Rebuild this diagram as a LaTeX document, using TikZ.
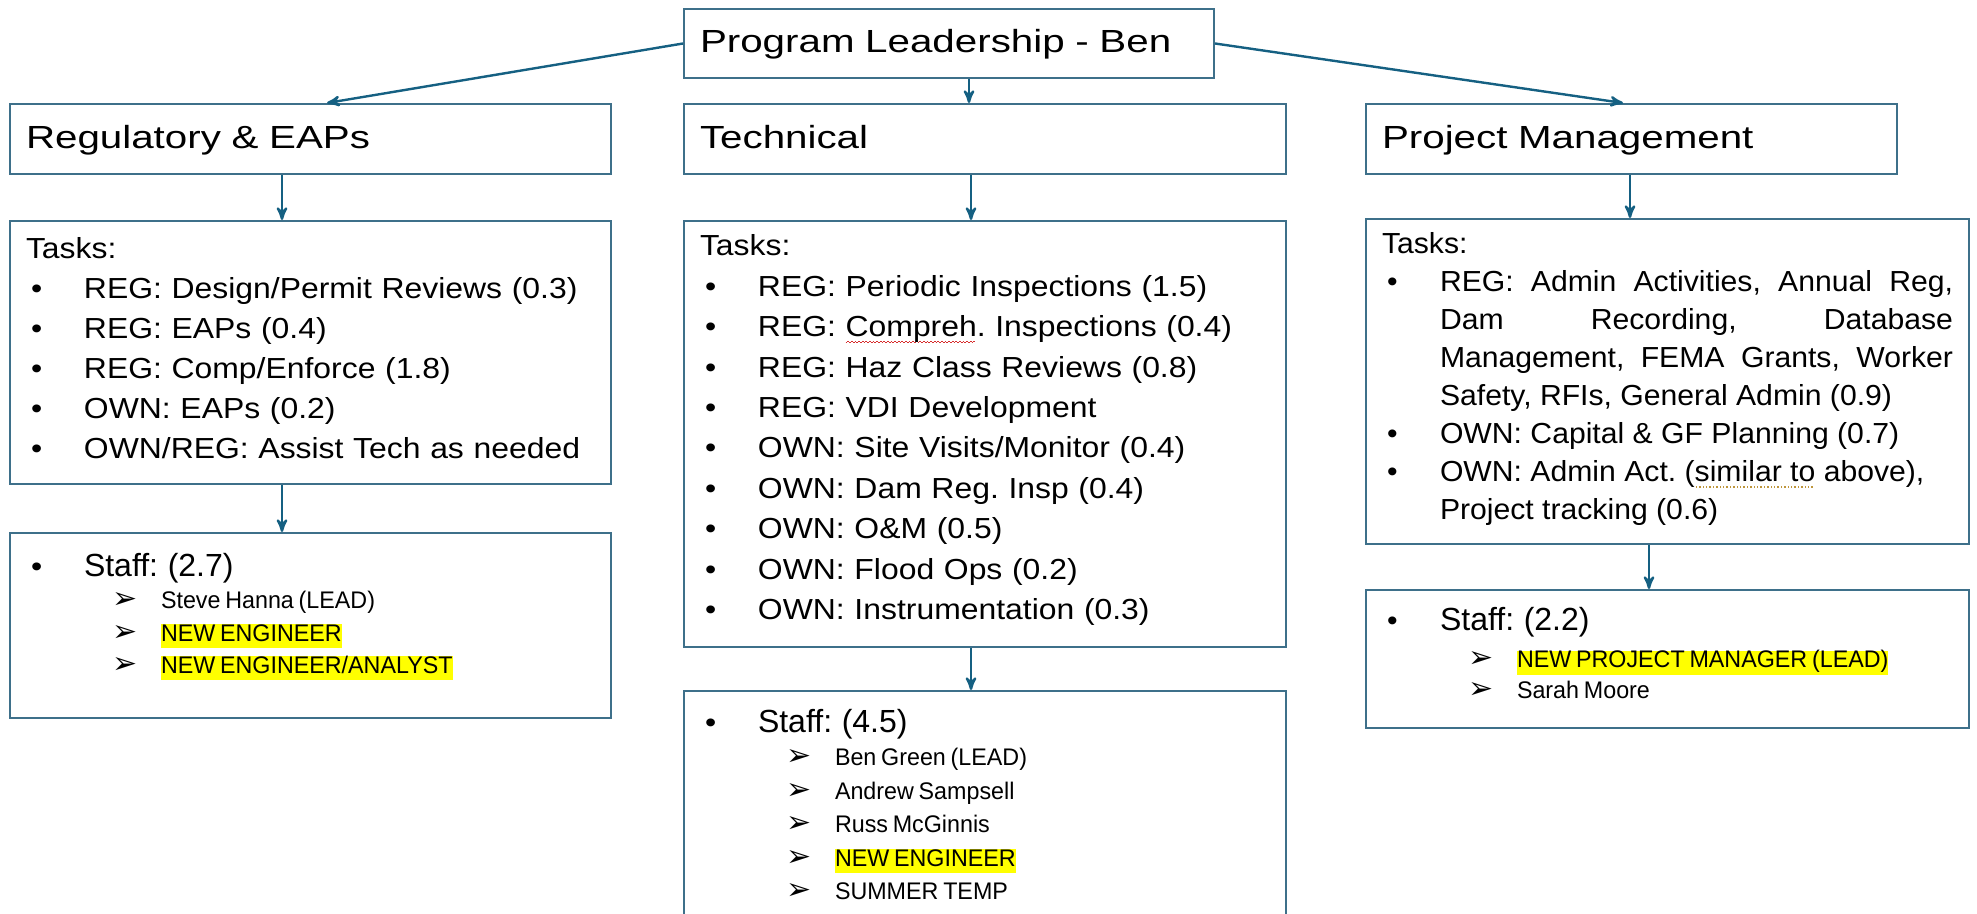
\documentclass[tikz,border=0pt]{standalone}
\usepackage{fontspec}
\usepackage{tikz}
\usetikzlibrary{arrows}
\setmainfont{Liberation Sans}
\newfontfamily\ttlfont{Liberation Sans}[FakeStretch=1.26]
\newfontfamily\taskfont{Liberation Sans}[FakeStretch=1.1]
\newfontfamily\pmfont{Liberation Sans}[FakeStretch=1.04]
\newfontfamily\nmfont{Liberation Sans}[FakeStretch=0.97]
\newfontfamily\dingfont{DejaVu Sans}
\definecolor{box_blue}{RGB}{62,112,138}
\definecolor{edge_blue}{RGB}{21,96,130}
\definecolor{hl_yellow}{RGB}{255,255,0}
\definecolor{wave_red}{RGB}{215,45,45}
\definecolor{dot_gold}{RGB}{190,150,60}
\frenchspacing

\newsavebox{\markbox}
\newcommand{\itm}[1]{\hangindent=29pt\hangafter=1\noindent\makebox[29pt][l]{\hspace{2.5pt}\textbullet}#1\par}
\newcommand{\nm}[1]{\noindent\hspace*{43pt}\makebox[24.5pt][l]{\dingfont\fontsize{15}{15}\selectfont ➢}{\spaceskip=0.2em#1}\par}
\newcommand{\staff}[1]{{\fontsize{16}{16.5}\selectfont #1}}
\newcommand{\hl}[1]{{\setlength{\fboxsep}{0pt}\colorbox{hl_yellow}{\rule[-3.3pt]{0pt}{11pt}#1}}}
\newcommand{\redwave}[1]{\leavevmode\sbox{\markbox}{#1}\rlap{\color{wave_red}\lower3pt\hbox to\wd\markbox{\leaders\hbox{\rule{0.9pt}{0.45pt}\raise0.55pt\hbox{\rule{0.9pt}{0.45pt}}}\hfill}}\usebox{\markbox}}
\newcommand{\golddots}[1]{\leavevmode\sbox{\markbox}{#1}\rlap{\color{dot_gold}\lower2.8pt\hbox to\wd\markbox{\leaders\hbox{\kern0.5pt\rule{0.7pt}{0.7pt}\kern0.5pt}\hfill}}\usebox{\markbox}}

\begin{document}
\begin{tikzpicture}[->,>=stealth',x=0.5pt,y=-0.5pt]
    \tikzstyle{box}=[draw=box_blue, line width=1pt, rectangle, anchor=north west, inner ysep=0pt, inner xsep=8pt, align=left, text=black]
    \tikzstyle{head}=[style=box, font=\ttlfont\fontsize{16}{20}\selectfont, text height=22.5pt, text depth=12.5pt]
    \tikzstyle{link}=[edge_blue, line width=1.2pt]

    \useasboundingbox (0,0) rectangle (1977,914);
    \clip (0,0) rectangle (1977,914);

    \node[head, text width=249pt, text height=22pt] (lead) at (683,8) {Program Leadership - Ben};
    \node[head, text width=284.5pt] (reg)  at (9,103)    {Regulatory \& EAPs};
    \node[head, text width=285pt]   (tech) at (683,103)  {Technical};
    \node[head, text width=249.5pt] (pm)   at (1365,103) {Project Management};

    \node[box, text width=284.5pt, text height=19pt, text depth=112.5pt,
          font=\taskfont\fontsize{14.5}{20}\selectfont] (regtask) at (9,220) {Tasks:\par
        \itm{REG: Design/Permit Reviews (0.3)}
        \itm{REG: EAPs (0.4)}
        \itm{REG: Comp/Enforce (1.8)}
        \itm{OWN: EAPs (0.2)}
        \itm{OWN/REG: Assist Tech as needed}};
    \node[box, text width=285pt, text height=17.5pt, text depth=195.5pt,
          font=\taskfont\fontsize{14.5}{20.2}\selectfont] (techtask) at (683,220) {Tasks:\par
        \itm{REG: Periodic Inspections (1.5)}
        \itm{REG: \redwave{Compreh}. Inspections (0.4)}
        \itm{REG: Haz Class Reviews (0.8)}
        \itm{REG: VDI Development}
        \itm{OWN: Site Visits/Monitor (0.4)}
        \itm{OWN: Dam Reg. Insp (0.4)}
        \itm{OWN: O\&M (0.5)}
        \itm{OWN: Flood Ops (0.2)}
        \itm{OWN: Instrumentation (0.3)}};
    \node[box, align=justify, text width=285.5pt, text height=17.5pt, text depth=145pt,
          font=\pmfont\fontsize{14.5}{19}\selectfont] (pmtask) at (1365,218) {Tasks:\par
        \itm{REG: Admin Activities, Annual Reg,\linebreak Dam Recording, Database\linebreak Management, FEMA Grants, Worker\linebreak Safety, RFIs, General Admin (0.9)}
        \itm{OWN: Capital \& GF Planning (0.7)}
        \itm{OWN: Admin Act. (\golddots{similar to} above),\newline Project tracking (0.6)}};

    \node[box, text width=284.5pt, text height=21.5pt, text depth=71pt,
          font=\taskfont\fontsize{14.5}{16.5}\selectfont] (regstaff) at (9,532) {%
        \itm{\staff{\rmfamily Staff: (2.7)}}
        {\nmfont\fontsize{12}{16.25}\selectfont
        \nm{Steve Hanna (LEAD)}
        \nm{\hl{NEW ENGINEER}}
        \nm{\hl{NEW ENGINEER/ANALYST}}}};
    \node[box, text width=285pt, text height=20.5pt, text depth=99.5pt,
          font=\taskfont\fontsize{14.5}{16.75}\selectfont] (techstaff) at (683,690) {%
        \itm{\staff{\rmfamily Staff: (4.5)}}
        {\nmfont\fontsize{12}{16.75}\selectfont
        \nm{Ben Green (LEAD)}
        \nm{Andrew Sampsell}
        \nm{Russ McGinnis}
        \nm{\hl{NEW ENGINEER}}
        \nm{SUMMER TEMP}}};
    \node[box, text width=285.5pt, text height=20.5pt, text depth=48.5pt,
          font=\pmfont\fontsize{14.5}{15.5}\selectfont] (pmstaff) at (1365,589) {%
        \itm{\staff{\rmfamily Staff: (2.2)}}\vspace{3pt}
        {\nmfont\fontsize{12}{15.5}\selectfont
        \nm{\hl{NEW PROJECT MANAGER (LEAD)}}
        \nm{Sarah Moore}}};

    \path[link]
     (lead.west) edge ([xshift=8.25pt]reg.north)
     ([xshift=10pt]lead.south) edge ([xshift=-8pt]tech.north)
     (lead.east) edge ([xshift=-4.25pt]pm.north)
     ([xshift=-14.25pt]reg.south) edge ([xshift=-14.25pt]regtask.north)
     ([xshift=-14.25pt]regtask.south) edge ([xshift=-14.25pt]regstaff.north)
     ([xshift=-7pt]tech.south) edge ([xshift=-7pt]techtask.north)
     ([xshift=-7pt]techtask.south) edge ([xshift=-7pt]techstaff.north)
     ([xshift=-0.75pt]pm.south) edge ([xshift=-18.75pt]pmtask.north)
     ([xshift=-9.25pt]pmtask.south) edge ([xshift=-9.25pt]pmstaff.north)
     ;
\end{tikzpicture}
\end{document}
